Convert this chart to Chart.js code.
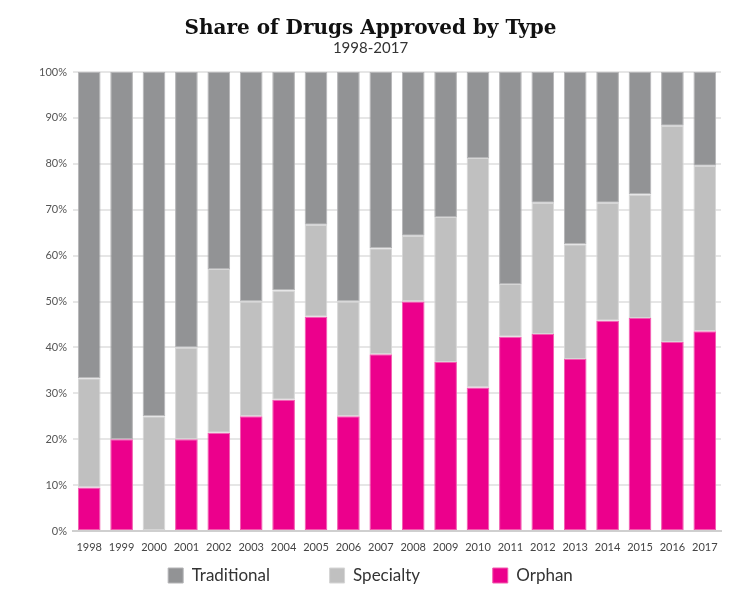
<!DOCTYPE html>
<html>
<head>
<meta charset="utf-8">
<script src="https://cdn.jsdelivr.net/npm/chart.js@4"></script>
<style>
  html, body { margin: 0; padding: 0; background: #fff; }
  #wrap { width: 750px; height: 595px; }
</style>
</head>
<body>
<div id="wrap"><canvas id="myChart" width="750" height="595"></canvas></div>
<script>
const years = ["1998", "1999", "2000", "2001", "2002", "2003", "2004", "2005", "2006", "2007",
  "2008", "2009", "2010", "2011", "2012", "2013", "2014", "2015", "2016", "2017"];
// percent shares per year
const orphan = [9.5, 20, 0, 20, 21.4, 25, 28.6, 46.7, 25, 38.5,
  50, 36.8, 31.25, 42.3, 42.9, 37.5, 45.8, 46.4, 41.2, 43.5];
const specialty = [23.8, 0, 25, 20, 35.7, 25, 23.8, 20, 25, 23.1,
  14.3, 31.6, 50, 11.5, 28.6, 25, 25.7, 26.9, 47.1, 36.1];
const traditional = [66.7, 80, 75, 60, 42.9, 50, 47.6, 33.3, 50, 38.4,
  35.7, 31.6, 18.75, 46.2, 28.5, 37.5, 28.5, 26.7, 11.7, 20.4];
const yTicks = [0, 10, 20, 30, 40, 50, 60, 70, 80, 90, 100];

window.onload = function () {
  const ctx = document.getElementById("myChart").getContext("2d");
  const barStyle = { borderWidth: 1, borderSkipped: false, barPercentage: 0.7, categoryPercentage: 1 };
  const legendFont = "17px Lato, sans-serif";

  new Chart(ctx, {
    type: "bar",
    data: {
      labels: years,
      datasets: [
        { label: "Orphan", data: orphan, backgroundColor: "#ec008c", borderColor: "#f25aae", ...barStyle },
        { label: "Specialty", data: specialty, backgroundColor: "#c0c0c0", borderColor: "#d6d6d6", ...barStyle },
        { label: "Traditional", data: traditional, backgroundColor: "#929395", borderColor: "#b4b4b6", ...barStyle },
      ],
    },
    options: {
      responsive: false,
      animation: false,
      layout: { padding: { left: 20, right: 29, top: 19, bottom: 1 } },
      plugins: {
        title: {
          display: true,
          text: "Share of Drugs Approved by Type",
          color: "#111",
          font: { family: "'DejaVu Serif', serif", size: 20, weight: "bold", lineHeight: 1.0 },
          padding: { top: 0, bottom: 0 },
        },
        subtitle: {
          display: true,
          text: "1998-2017",
          color: "#333",
          font: { family: "Lato, sans-serif", size: 15 },
          padding: { top: 0, bottom: 15 },
        },
        legend: {
          position: "bottom",
          reverse: true,
          labels: {
            boxWidth: 15,
            boxHeight: 15,
            padding: 3,
            color: "#333",
            font: { family: "Lato, sans-serif", size: 17 },
            // even columns like the original: pad every label but the last one
            generateLabels: (chart) => {
              const items = Chart.defaults.plugins.legend.labels.generateLabels(chart);
              const c = chart.ctx;
              c.save();
              c.font = legendFont;
              items.forEach((it) => {
                if (it.datasetIndex === 0) return;
                while (c.measureText(it.text).width < 134) it.text += " ";
              });
              c.restore();
              return items;
            },
          },
        },
        tooltip: { enabled: false },
      },
      scales: {
        x: {
          stacked: true,
          grid: { display: false, drawTicks: false },
          border: { color: "#cfcfcf", width: 2 },
          afterFit: (scale) => { scale.height = 33; },
          ticks: { color: "#444", font: { family: "Lato, sans-serif", size: 11 }, padding: 10, maxRotation: 0, autoSkip: false },
        },
        y: {
          stacked: true,
          min: 0,
          max: 100,
          afterFit: (scale) => { scale.width = 53; },
          afterBuildTicks: (scale) => { scale.ticks = yTicks.map((v) => ({ value: v })); },
          grid: { color: "#e6e6e6", lineWidth: 2, drawTicks: false },
          border: { display: false },
          ticks: {
            color: "#555",
            font: { family: "Lato, sans-serif", size: 11 },
            padding: 6,
            callback: (val) => val + "%",
          },
        },
      },
    },
  });
};
</script>
</body>
</html>
